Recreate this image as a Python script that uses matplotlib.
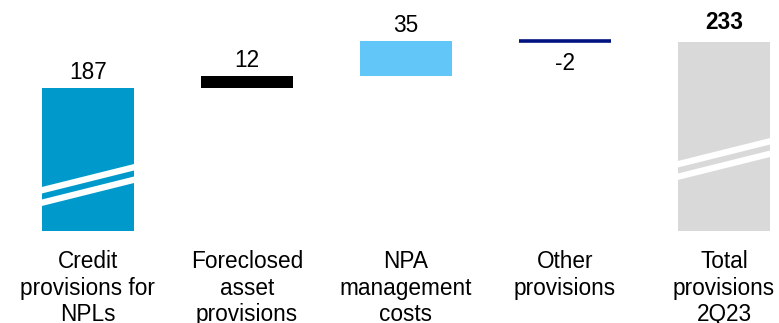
import matplotlib.pyplot as plt
import matplotlib.patches as patches
import matplotlib.transforms as mtransforms

# chart data
categories = ["Credit\nprovisions for\nNPLs", "Foreclosed\nasset\nprovisions",
              "NPA\nmanagement\ncosts", "Other\nprovisions", "Total\nprovisions\n2Q23"]
values = [187, 12, 35, -2, 233]
value_labels = ["187", "12", "35", "-2", "233"]
is_total = [True, False, False, False, True]

colors = ["#0099CC", "#000000", "#63C6F9", "#00127F", "#D9D9D9"]
break_at = [69, None, None, None, 95]   # where the white break stripes start (left edge)

plt.rcParams['font.family'] = ['Liberation Sans', 'DejaVu Sans']

fig = plt.figure(figsize=(7.79, 3.23), dpi=100)
ax = fig.add_axes([0, (323 - 231) / 323, 1, 231 / 323])
ax.set_xlim(-0.553, 4.346)
ax.set_ylim(44, 275)
ax.axis("off")

width = 0.58
running = 0
for i, v in enumerate(values):
    if is_total[i]:
        bottom, top = 0, v
        running = v
    else:
        bottom, top = running, running + v
        running = top
    if v < 0:
        # small negative step drawn as a thin line
        ax.plot([i - width / 2, i + width / 2], [bottom, bottom], color=colors[i], lw=2.6,
                solid_capstyle="butt")
    else:
        ax.bar(i, top - bottom, bottom=bottom, width=width, color=colors[i])

    # value labels
    if v < 0:
        ax.annotate(value_labels[i], (i, bottom), xytext=(0, -29 * 0.72), textcoords="offset points",
                    ha="center", va="baseline", fontsize=16.3)
    else:
        ax.annotate(value_labels[i], (i, top), xytext=(0, 9 * 0.72 if not is_total[i] or i == 0 else 13 * 0.72),
                    textcoords="offset points", ha="center", va="baseline", fontsize=16.3,
                    fontweight="bold" if i == len(values) - 1 else "normal")

    # axis-break stripes
    if break_at[i] is not None:
        x0, x1 = i - width / 2, i + width / 2
        rise = 23
        for off in (0, 12.5):
            yb = break_at[i] + off
            stripe = patches.Polygon([(x0, yb), (x1, yb + rise), (x1, yb + rise + 6.5), (x0, yb + 6.5)],
                                     closed=True, facecolor="white", edgecolor="none")
            ax.add_patch(stripe)

# category labels under the bars
trans = mtransforms.blended_transform_factory(ax.transData, fig.transFigure)
for i, c in enumerate(categories):
    ax.text(i, (323 - 250.5) / 323, c, transform=trans, ha="center", va="top",
            fontsize=16.3, linespacing=1.18, clip_on=False)

fig.savefig("out.png", dpi=100)
